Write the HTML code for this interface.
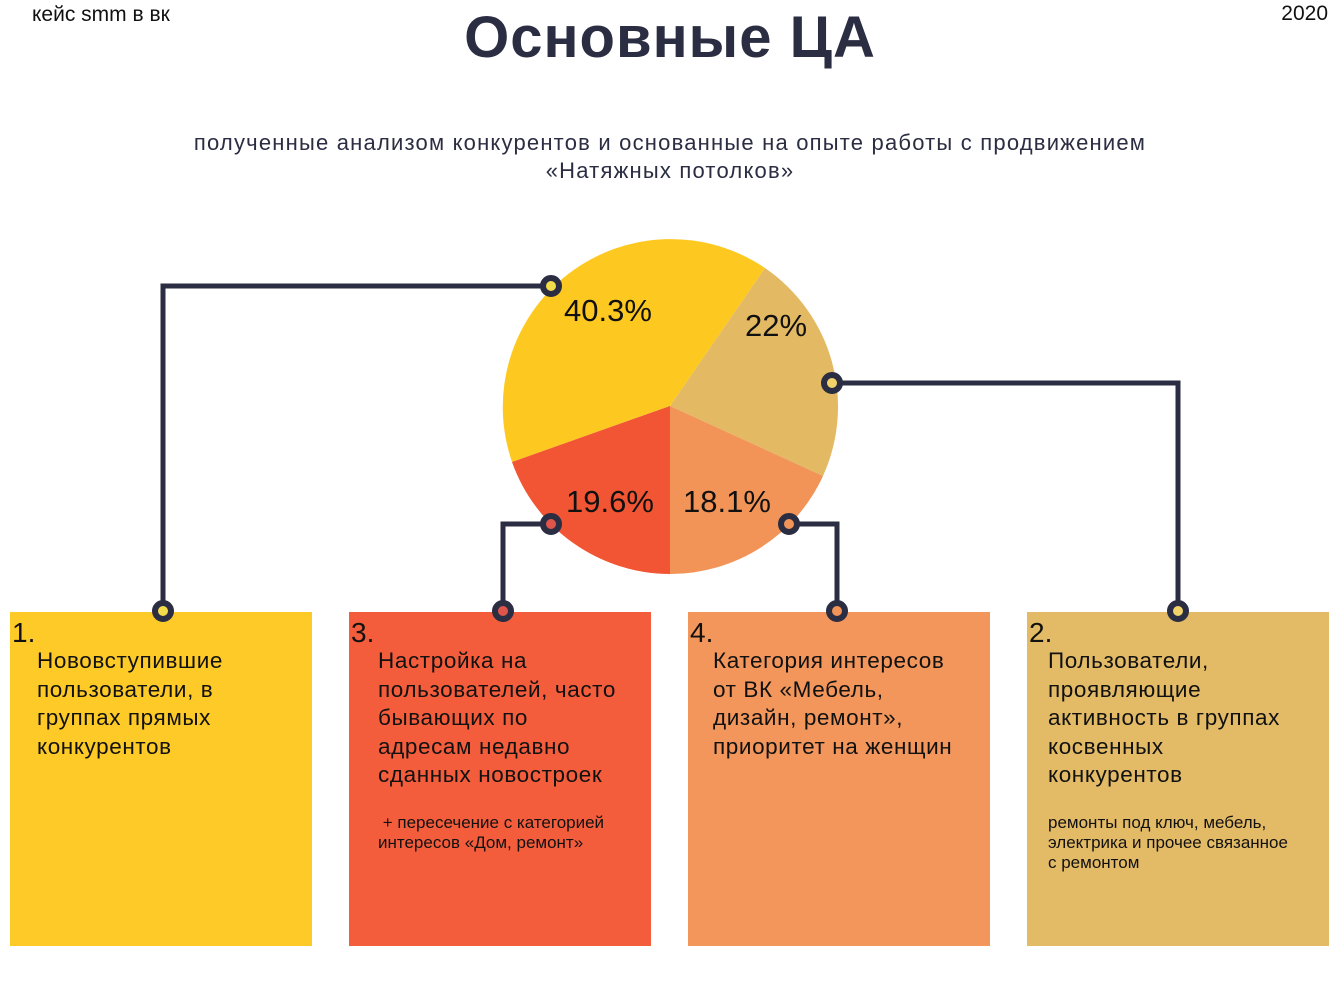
<!DOCTYPE html>
<html><head><meta charset="utf-8"><style>
html,body{margin:0;padding:0;background:#fff;}
body{width:1340px;height:1005px;position:relative;overflow:hidden;font-family:"Liberation Sans","DejaVu Sans",sans-serif;color:#111;}
.abs{position:absolute;}
.box{position:absolute;top:612px;width:302px;height:334px;}
.num{position:absolute;left:2px;top:5px;font-size:28px;}
.txt{position:absolute;left:27px;top:35px;font-size:22.5px;line-height:28.5px;letter-spacing:0.6px;white-space:nowrap;}
.small{position:absolute;left:27px;font-size:17px;line-height:20px;white-space:nowrap;}
</style></head><body>
<div class="abs" style="left:32px;top:3px;font-size:21px;">кейс smm в вк</div>
<div class="abs" style="right:12px;top:2px;font-size:21px;">2020</div>
<div class="abs" style="left:0;width:1340px;top:4px;text-align:center;font-size:58px;font-weight:bold;color:#2b2d42;letter-spacing:1px;">Основные ЦА</div>
<div class="abs" style="left:0;width:1340px;top:129px;text-align:center;font-size:22px;line-height:28px;color:#2b2d42;letter-spacing:1.2px;">полученные анализом конкурентов и основанные на опыте работы с продвижением<br>«Натяжных потолков»</div>

<div class="box" style="left:10px;background:#fdca27;"><div class="num">1.</div><div class="txt">Нововступившие<br>пользователи, в<br>группах прямых<br>конкурентов</div></div>
<div class="box" style="left:349px;background:#f45d3c;"><div class="num">3.</div><div class="txt" style="left:29px;">Настройка на<br>пользователей, часто<br>бывающих по<br>адресам недавно<br>сданных новостроек</div><div class="small" style="left:29px;top:201px;">&nbsp;+ пересечение с категорией<br>интересов «Дом, ремонт»</div></div>
<div class="box" style="left:688px;background:#f2965b;"><div class="num">4.</div><div class="txt" style="left:25px;">Категория интересов<br>от ВК «Мебель,<br>дизайн, ремонт»,<br>приоритет на женщин</div></div>
<div class="box" style="left:1027px;background:#e3bb66;"><div class="num">2.</div><div class="txt" style="left:21px;">Пользователи,<br>проявляющие<br>активность в группах<br>косвенных<br>конкурентов</div><div class="small" style="left:21px;top:201px;">ремонты под ключ, мебель,<br>электрика и прочее связанное<br>с ремонтом</div></div>

<svg class="abs" style="left:0;top:0" width="1340" height="1005">
<path d="M670 406 L512 462 A168 168 0 0 1 765 268 Z" fill="#fdc921"/>
<path d="M670 406 L765 268 A168 168 0 0 1 823 476 Z" fill="#e3ba63"/>
<path d="M670 406 L823 476 A168 168 0 0 1 670 574 Z" fill="#f29458"/>
<path d="M670 406 L670 574 A168 168 0 0 1 512 462 Z" fill="#f25533"/>
<g font-family="Liberation Sans, sans-serif" font-size="31" fill="#111">
<text x="564" y="321">40.3%</text>
<text x="745" y="336">22%</text>
<text x="566" y="512">19.6%</text>
<text x="683" y="512">18.1%</text>
</g>
<g fill="none" stroke="#2b2d42" stroke-width="5">
<polyline points="551,286 163,286 163,611"/>
<polyline points="832,383 1178,383 1178,611"/>
<polyline points="551,524 503,524 503,611"/>
<polyline points="789,524 837,524 837,611"/>
</g>
<g stroke="#2b2d42" stroke-width="6">
<circle cx="551" cy="286" r="8" fill="#f3dc4c"/>
<circle cx="832" cy="383" r="8" fill="#f2d36a"/>
<circle cx="551" cy="524" r="8" fill="#e0554b"/>
<circle cx="789" cy="524" r="8" fill="#f29458"/>
<circle cx="163" cy="611" r="8" fill="#f3dc4c"/>
<circle cx="503" cy="611" r="8" fill="#e0554b"/>
<circle cx="837" cy="611" r="8" fill="#f29458"/>
<circle cx="1178" cy="611" r="8" fill="#f2d36a"/>
</g>
</svg>
</body></html>
